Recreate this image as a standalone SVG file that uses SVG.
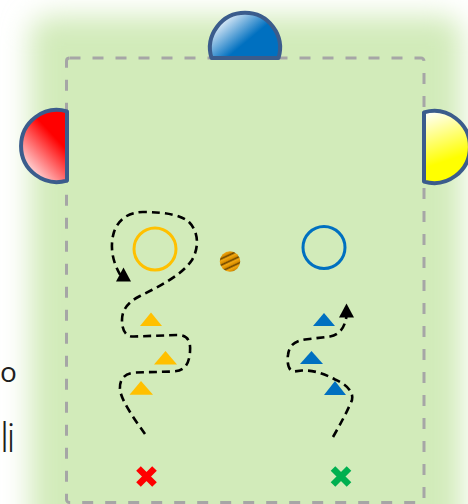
<svg xmlns="http://www.w3.org/2000/svg" width="468" height="504" viewBox="0 0 468 504">
<defs>
<filter id="soft" x="-20%" y="-20%" width="140%" height="140%"><feGaussianBlur stdDeviation="14"/></filter>
<linearGradient id="gBlue" x1="0.1" y1="0.25" x2="0.55" y2="0.6"><stop offset="0" stop-color="#e3eef9"/><stop offset="1" stop-color="#0070c0"/></linearGradient>
<linearGradient id="gRed" x1="0.25" y1="1" x2="0.7" y2="0.35"><stop offset="0" stop-color="#fff4f6"/><stop offset="1" stop-color="#ff0000"/></linearGradient>
<linearGradient id="gYel" x1="0.3" y1="0" x2="0.45" y2="0.7"><stop offset="0" stop-color="#fffff2"/><stop offset="1" stop-color="#ffff00"/></linearGradient>
<linearGradient id="gBall" x1="0" y1="0" x2="0" y2="0.28" spreadMethod="repeat" gradientTransform="rotate(-25 0.5 0.5)"><stop offset="0" stop-color="#f2a812"/><stop offset="0.45" stop-color="#d98e00"/><stop offset="0.7" stop-color="#6e4600"/><stop offset="1" stop-color="#f2a812"/></linearGradient>
<marker id="arr" markerUnits="userSpaceOnUse" markerWidth="20" markerHeight="20" refX="8" refY="13" orient="0"><path d="M8,0.5 L15.5,14.5 L0.5,14.5 Z" fill="#000"/></marker>
<style>
.goal{stroke:#3b5c8c;stroke-width:4;stroke-linejoin:round}
.route{fill:none;stroke:#000;stroke-width:2.6;stroke-dasharray:8 5}
.ty{fill:#ffc000}
.tb{fill:#0070c0}
.txt{font-family:"Open Sans",Lato,"DejaVu Sans",sans-serif;fill:#1e1e1e}
</style>
</defs>
<rect width="468" height="504" fill="#fff"/>
<rect x="30" y="16" width="432" height="540" rx="20" fill="#d2ebba" filter="url(#soft)"/>
<text class="txt" x="0" y="381.5" font-size="28">o</text>
<text class="txt" x="0 6.5" y="451.5" font-size="40" font-weight="300">li</text>
<rect id="field" x="66.5" y="58" width="357.5" height="444.5" rx="3" fill="none" stroke="#a6a6a6" stroke-width="3" stroke-dasharray="11 12"/>
<g id="goal-blue"><path class="goal" d="M211.5,58 A35,35 0 1 1 278.5,58 Z" fill="url(#gBlue)"/></g>
<g id="goal-red"><path class="goal" d="M67,111.4 A36,36 0 1 0 67,180.6 Z" fill="url(#gRed)"/></g>
<g id="goal-yellow"><path class="goal" d="M424,112.4 A36,36 0 1 1 424,181.6 Z" fill="url(#gYel)"/></g>
<g id="ring-yellow"><circle cx="155" cy="249" r="21" fill="none" stroke="#ffc000" stroke-width="3"/></g>
<g id="ring-blue"><circle cx="324" cy="247.5" r="21" fill="none" stroke="#0070c0" stroke-width="3"/></g>
<g id="ball"><circle cx="230" cy="261.5" r="10.2" fill="url(#gBall)"/></g>
<g id="cones-yellow">
<polygon class="ty" points="151,312.5 162,326 140,326"/>
<polygon class="ty" points="165.5,351 177,364.5 154,364.5"/>
<polygon class="ty" points="141,381 153,394.7 129.5,394.7"/>
</g>
<g id="cones-blue">
<polygon class="tb" points="324,313 335,326 313,326"/>
<polygon class="tb" points="311.5,351 323,364 300,364"/>
<polygon class="tb" points="335,381 346,395 324,395"/>
</g>
<g id="connectors">
<path class="route" marker-end="url(#arr)" d="M145,434 C135,420 122,402 120,390 C119,380 124,373 136,372.5 L173,371.5 C184,371 189,365 190,352 C191,340 187,335 177,335 L134,336.5 C126,337 122,331 122,320 C122,310 128,302 140,296 C160,286 182,275 192,260 C199,248 199,232 189,222 C181,215 165,212 143,212 C128,212 118,220 114,232 C110,245 111,262 123.5,280"/>
<path class="route" marker-end="url(#arr)" d="M333,437 C341,423 348,410 352,400 C354,392 346,384 335,379.5 C325,374 314,370 302,370.5 L294,371.5 C288,371 287,362 288,355 C289,346 294,341 305,339.5 L330,336.5 C340,334.5 345,327 346.5,316"/>
</g>
<g id="player-red"><path d="M138.5,468.5 L154.5,484.5 M154.5,468.5 L138.5,484.5" stroke="#ff0000" stroke-width="6.5"/></g>
<g id="player-green"><path d="M333,468.5 L349,484.5 M349,468.5 L333,484.5" stroke="#00b050" stroke-width="6.5"/></g>
</svg>
